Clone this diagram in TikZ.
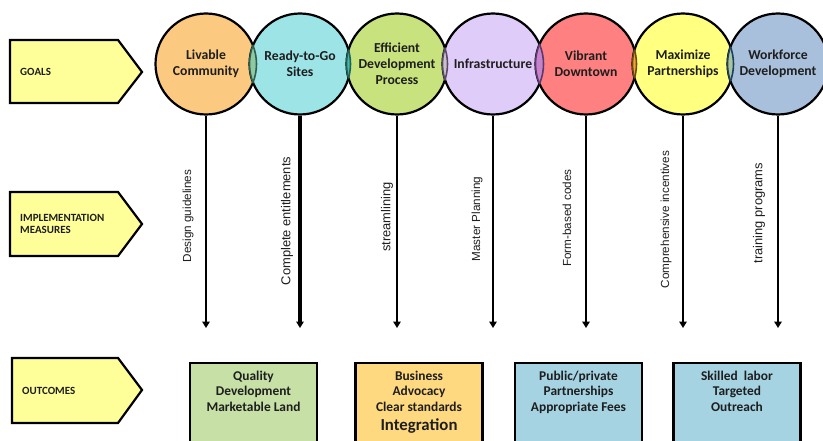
\documentclass[tikz,border=0pt]{standalone}
\usepackage{fontspec}
\setmainfont{Carlito}
\newfontfamily\arialf{Liberation Sans}
\usetikzlibrary{arrows.meta}
\definecolor{textc}{HTML}{1E1E1E}
\definecolor{pentfill}{HTML}{FFFF99}
\definecolor{cliv}{HTML}{FBC97F}
\definecolor{cready}{HTML}{9DE4E6}
\definecolor{ceff}{HTML}{C8E27D}
\definecolor{cinfra}{HTML}{E0CCF8}
\definecolor{cvib}{HTML}{FF8080}
\definecolor{cmax}{HTML}{FFFF80}
\definecolor{cwork}{HTML}{A8C0DC}
\definecolor{lA}{HTML}{8EC9A3}\definecolor{lAb}{HTML}{2F5F50}
\definecolor{lB}{HTML}{45B9A6}\definecolor{lBb}{HTML}{1F5F5A}
\definecolor{lC}{HTML}{CCC2C6}\definecolor{lCb}{HTML}{5A4A6A}
\definecolor{lD}{HTML}{C783C9}\definecolor{lDb}{HTML}{5A3A70}
\definecolor{lE}{HTML}{F2A535}\definecolor{lEb}{HTML}{6A4A10}
\definecolor{lF}{HTML}{A9C79E}\definecolor{lFb}{HTML}{1F3F5F}
\definecolor{bgreen}{HTML}{C6E0A6}
\definecolor{borange}{HTML}{FFD97F}
\definecolor{bblue}{HTML}{A5D3E2}
\newcommand{\lens}[4]{%
  \begin{scope}\clip (#1) circle (50.5);\fill[#3] (#2) circle (50.5);\end{scope}
  \begin{scope}\clip (#1) circle (50.5);\draw[#4,line width=1.6pt] (#2) circle (50.5);\end{scope}
  \begin{scope}\clip (#2) circle (50.5);\draw[#4,line width=1.6pt] (#1) circle (50.5);\end{scope}}
\begin{document}
\begin{tikzpicture}[x=1pt,y=-1pt,
  pent/.style={draw=black,line width=2.2pt,fill=pentfill,line join=miter},
  pentlabel/.style={font=\bfseries\fontsize{11}{12.5}\selectfont,anchor=west,align=left,text=textc,inner sep=0pt},
  goal/.style={circle,draw=black,line width=2.2pt,minimum size=101pt,inner sep=0pt,align=center,
    font=\bfseries\fontsize{13.7}{15.8}\selectfont,text=textc},
  measure/.style={rotate=90,font=\arialf\fontsize{11.7}{12}\selectfont,text=textc,inner sep=0pt},
  measurebig/.style={measure,font=\arialf\fontsize{12.9}{13}\selectfont},
  arr/.style={line width=2.4pt,-{Triangle[width=7.5pt,length=6.5pt]}},
  outbox/.style={draw=black,line width=2.6pt,minimum width=127pt,minimum height=86pt,inner sep=0pt},
  boxtext/.style={align=center,font=\bfseries\fontsize{13.4}{15.5}\selectfont,text=textc,inner sep=0pt,anchor=north}]
\useasboundingbox[fill=white] (0,0) rectangle (823,441);

% left pentagons
\draw[pent] (10,40) -- (118,40) -- (142,72) -- (118,103) -- (10,103) -- cycle;
\node[pentlabel] (lgoals) at (20,72) {GOALS};
\draw[pent] (10,192) -- (118,192) -- (142,224) -- (118,256) -- (10,256) -- cycle;
\node[pentlabel] (limpl) at (20,224) {IMPLEMENTATION\\MEASURES};
\draw[pent] (12,358) -- (118,358) -- (142,390) -- (118,423) -- (12,423) -- cycle;
\node[pentlabel] (lout) at (22,391) {OUTCOMES};

% goal circles
\node[goal,fill=cliv] (g1) at (206,64) {Livable\\Community};
\node[goal,fill=cready] (g2) at (300,64) {Ready-to-Go\\Sites};
\node[goal,fill=ceff] (g3) at (397,64) {Efficient\\Development\\Process};
\node[goal,fill=cinfra] (g4) at (493,64) {Infrastructure};
\node[goal,fill=cvib] (g5) at (586,64) {Vibrant\\Downtown};
\node[goal,fill=cmax] (g6) at (683,64) {Maximize\\Partnerships};
\node[goal,fill=cwork] (g7) at (778,64) {Workforce\\Development};

\lens{g1.center}{g2.center}{lA}{lAb}
\lens{g2.center}{g3.center}{lB}{lBb}
\lens{g3.center}{g4.center}{lC}{lCb}
\lens{g4.center}{g5.center}{lD}{lDb}
\lens{g5.center}{g6.center}{lE}{lEb}
\lens{g6.center}{g7.center}{lF}{lFb}

% arrows
\coordinate (e1) at (206,328);
\coordinate (e2) at (300,328);
\coordinate (e3) at (397,328);
\coordinate (e4) at (493,328);
\coordinate (e5) at (586,328);
\coordinate (e6) at (683,328);
\coordinate (e7) at (778,328);
\draw[arr] (g1.south) -- (e1);
\draw[arr,line width=3.2pt] (g2.south) -- (e2);
\draw[arr] (g3.south) -- (e3);
\draw[arr] (g4.south) -- (e4);
\draw[arr] (g5.south) -- (e5);
\draw[arr] (g6.south) -- (e6);
\draw[arr] (g7.south) -- (e7);

% measures
\node[measure] (m1) at (188,216) {Design guidelines};
\node[measurebig] (m2) at (287,221) {Complete entitlements};
\node[measurebig] (m3) at (387,217) {streamlining};
\node[measure] (m4) at (477,219) {Master Planning};
\node[measure] (m5) at (567,218) {Form-based codes};
\node[measure] (m6) at (666,219.5) {Comprehensive incentives};
\node[measurebig] (m7) at (759,213) {training programs};

% outcomes
\node[outbox,fill=bgreen] (o1) at (253.5,406) {};
\node[outbox,fill=borange] (o2) at (419,406) {};
\node[outbox,fill=bblue] (o3) at (578.5,406) {};
\node[outbox,fill=bblue] (o4) at (737,406) {};
\node[boxtext] (t1) at (253.5,370.5) {Quality\\Development\\Marketable Land};
\node[boxtext] (t2) at (419,370.5) {Business\\Advocacy\\Clear standards};
\node[boxtext,font=\bfseries\fontsize{16.8}{18}\selectfont,anchor=base] (t2b) at (419,430.5) {Integration};
\node[boxtext] (t3) at (578.5,370.5) {Public/private\\Partnerships\\Appropriate Fees};
\node[boxtext] (t4) at (737,370.5) {Skilled\ \ labor\\Targeted\\Outreach};
\end{tikzpicture}
\end{document}
